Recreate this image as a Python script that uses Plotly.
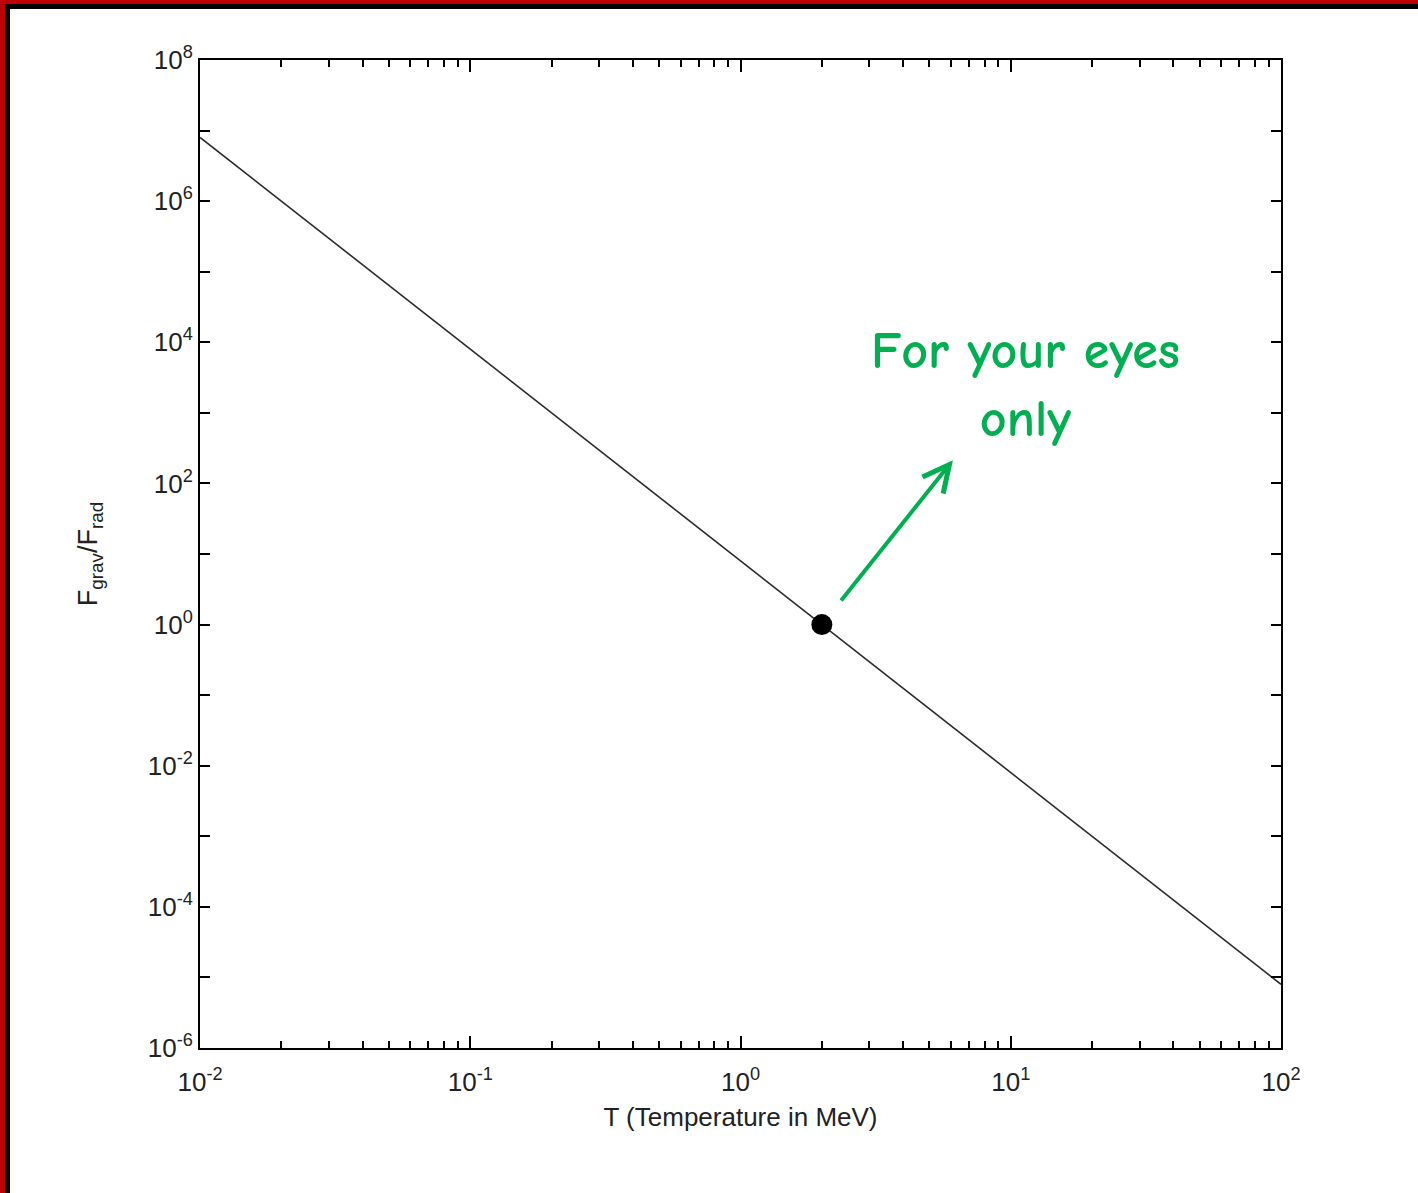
import plotly.graph_objects as go

# ---- data ----
T_vals = [0.01, 0.1, 1, 10, 100]                 # MeV
ratio_vals = [8e6, 8e3, 8, 8e-3, 8e-6]           # F_grav / F_rad
point_T = [2.0]
point_ratio = [1.0]

x_tick_vals = [0.01, 0.1, 1, 10, 100]
x_tick_text = ["10<sup>-2</sup>", "10<sup>-1</sup>", "10<sup>0</sup>", "10<sup>1</sup>", "10<sup>2</sup>"]
y_tick_vals = [10.0 ** k for k in range(-6, 9)]
y_tick_text = [("10<sup>%d</sup>" % k) if k % 2 == 0 else "" for k in range(-6, 9)]
x_minor_vals = [m * 10.0 ** e for e in range(-2, 2) for m in range(2, 10)]

W, H = 1418, 1193
L, R, T, B = 200, 137, 60, 145
PW, PH = W - L - R, H - T - B

fig = go.Figure()
fig.add_trace(go.Scatter(x=T_vals, y=ratio_vals, mode="lines",
                         line=dict(color="#2b2b2b", width=1.6), showlegend=False))
fig.add_trace(go.Scatter(x=point_T, y=point_ratio, mode="markers",
                         marker=dict(color="black", size=21, line=dict(width=0)),
                         showlegend=False))

tickfont = dict(family="Liberation Sans, Arial, sans-serif", size=26, color="#222")

fig.update_xaxes(type="log", range=[-2, 2], showgrid=False, zeroline=False,
                 showline=True, linecolor="black", linewidth=2, mirror="allticks",
                 ticks="inside", ticklen=12, tickwidth=1.5, tickcolor="black",
                 tickmode="array", tickvals=x_tick_vals, ticktext=x_tick_text,
                 tickfont=tickfont, ticklabelstandoff=10,
                 minor=dict(tickmode="array", tickvals=x_minor_vals, ticks="inside",
                            ticklen=7, tickwidth=1.5, tickcolor="black", showgrid=False),
                 title=dict(text="T (Temperature in MeV)",
                            font=dict(family="Liberation Sans, Arial, sans-serif", size=26, color="#222"),
                            standoff=12))
fig.update_yaxes(type="log", range=[-6, 8], showgrid=False, zeroline=False,
                 showline=True, linecolor="black", linewidth=2, mirror="allticks",
                 ticks="inside", ticklen=10, tickwidth=1.5, tickcolor="black",
                 tickmode="array", tickvals=y_tick_vals, ticktext=y_tick_text,
                 tickfont=tickfont,
                 title=dict(text="F<sub>grav</sub>/F<sub>rad</sub>",
                            font=dict(family="Liberation Sans, Arial, sans-serif", size=27, color="#222"),
                            standoff=42))

green = "#00b050"
fig.add_annotation(x=1.053, y=3.40, xref="x", yref="y", showarrow=False,
                   text="<b>For your eyes<br>only</b>",
                   font=dict(family="Comic Sans MS, Comic Neue, Lato, sans-serif", size=52, color=green),
                   align="center")
fig.add_annotation(x=0.786, y=2.33, xref="x", yref="y", ax=0.368, ay=0.32,
                   axref="x", ayref="y", text="", showarrow=True,
                   arrowhead=5, arrowsize=1.3, arrowwidth=4, arrowcolor=green)

# frame (left + top border of the slide)
def px_x(p):
    return (p - L) / PW

def px_y(p):
    return 1 - (p - T) / PH

shapes = [
    dict(type="rect", xref="paper", yref="paper", x0=px_x(0), x1=px_x(5), y0=px_y(H), y1=px_y(0),
         fillcolor="#c00000", line=dict(width=0), layer="above"),
    dict(type="rect", xref="paper", yref="paper", x0=px_x(0), x1=px_x(W), y0=px_y(4), y1=px_y(0),
         fillcolor="#c00000", line=dict(width=0), layer="above"),
    dict(type="rect", xref="paper", yref="paper", x0=px_x(5), x1=px_x(10), y0=px_y(H), y1=px_y(4),
         fillcolor="black", line=dict(width=0), layer="above"),
    dict(type="rect", xref="paper", yref="paper", x0=px_x(5), x1=px_x(W), y0=px_y(9), y1=px_y(4),
         fillcolor="black", line=dict(width=0), layer="above"),
]

fig.update_layout(width=W, height=H, margin=dict(l=L, r=R, t=T, b=B),
                  paper_bgcolor="white", plot_bgcolor="white", shapes=shapes,
                  showlegend=False)

fig.write_html("out.html", config={"displayModeBar": False},
               post_script="document.body.style.margin='0';document.body.style.padding='0';document.body.style.overflow='hidden';")
